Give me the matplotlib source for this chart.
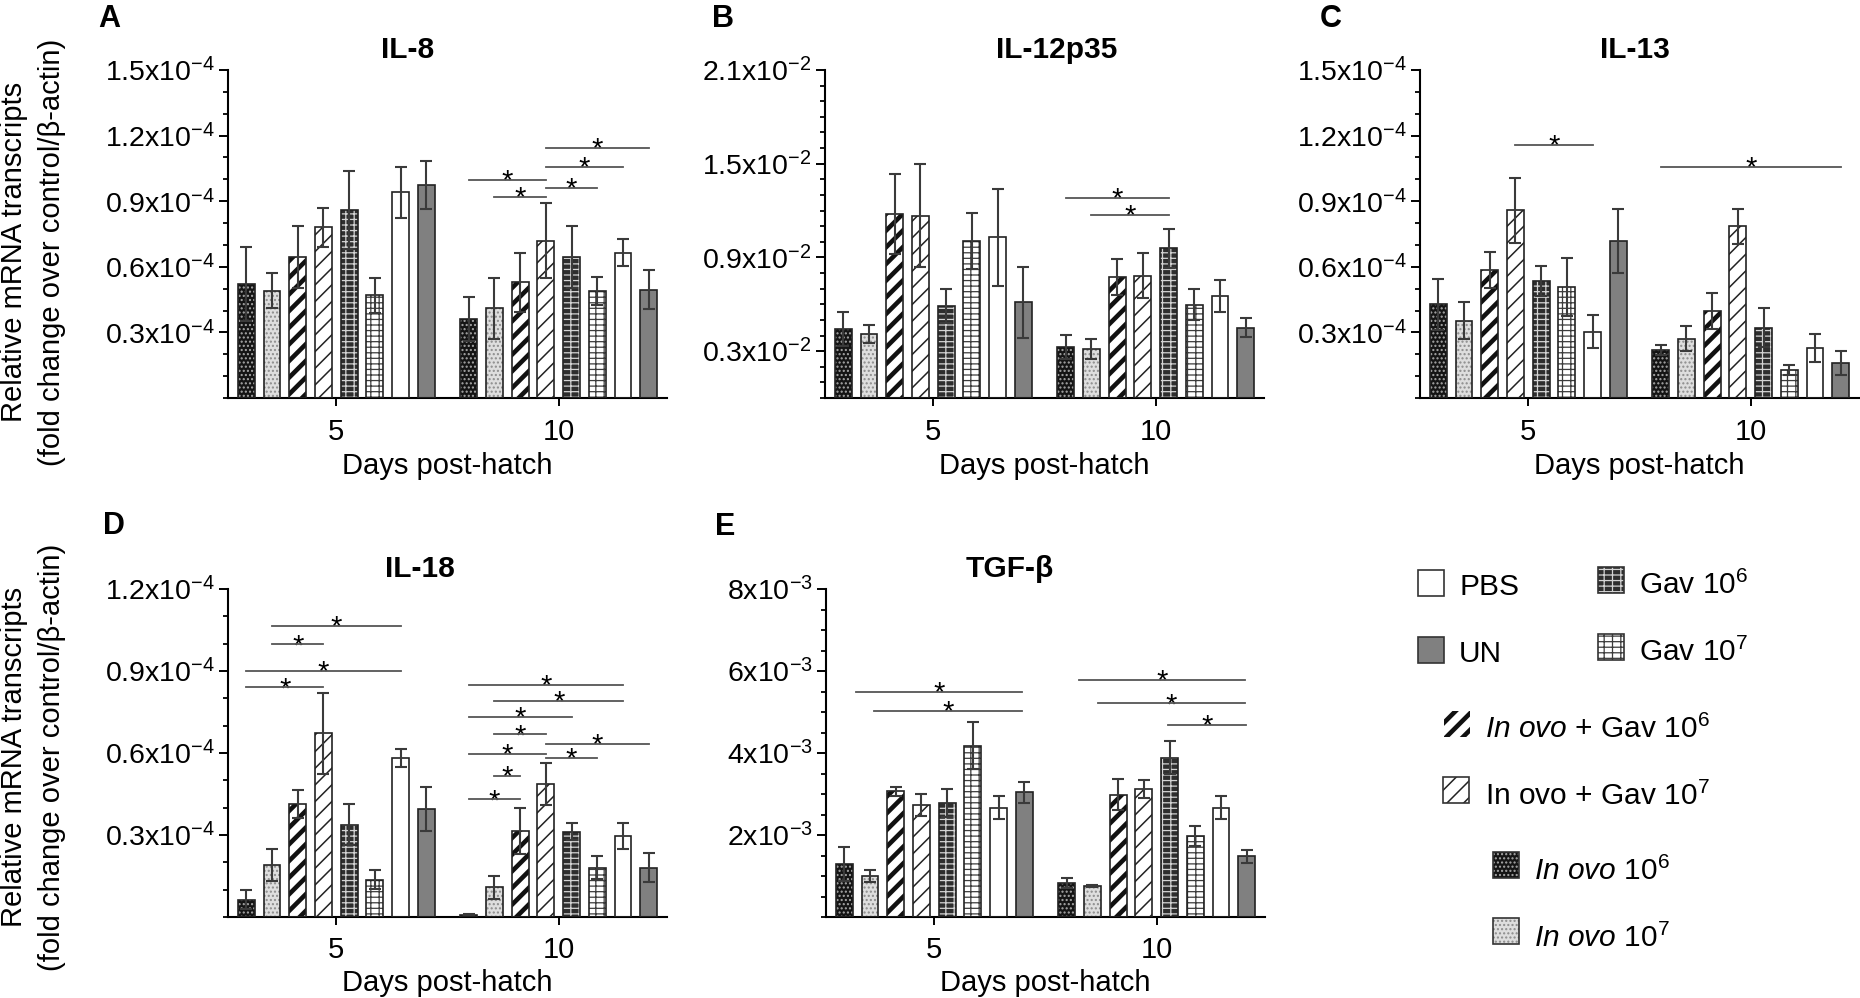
import numpy as np
import matplotlib.pyplot as plt
import matplotlib.patches as mpatches
from matplotlib.ticker import FixedLocator, MultipleLocator

plt.rcParams['font.family'] = ['Liberation Sans', 'DejaVu Sans']
plt.rcParams['mathtext.fontset'] = 'custom'
plt.rcParams['mathtext.rm'] = 'Liberation Sans'
plt.rcParams['mathtext.it'] = 'Liberation Sans:italic'
plt.rcParams['mathtext.bf'] = 'Liberation Sans:bold'
plt.rcParams['hatch.linewidth'] = 1.0

W, H = 1860, 998

# bar order inside each day cluster
groups = ['In ovo 10^6', 'In ovo 10^7', 'In ovo + Gav 10^6', 'In ovo + Gav 10^7',
          'Gav 10^6', 'Gav 10^7', 'PBS', 'UN']
days = ['5', '10']

# IL-8 (x10^-4)
il8_d5 = [0.52, 0.49, 0.645, 0.78, 0.86, 0.47, 0.94, 0.975]
il8_d5_err = [0.17, 0.08, 0.14, 0.09, 0.18, 0.08, 0.115, 0.11]
il8_d10 = [0.36, 0.41, 0.53, 0.72, 0.645, 0.49, 0.665, 0.495]
il8_d10_err = [0.10, 0.14, 0.135, 0.17, 0.14, 0.063, 0.06, 0.09]
# (day, from bar, to bar, height)
il8_sig = [(1, 0, 3, 0.998), (1, 1, 3, 0.92), (1, 3, 7, 1.142), (1, 3, 6, 1.055), (1, 3, 5, 0.96)]

# IL-12p35 (x10^-2)
il12_d5 = [0.44, 0.41, 1.18, 1.167, 0.59, 1.005, 1.03, 0.612]
il12_d5_err = [0.11, 0.06, 0.255, 0.33, 0.107, 0.177, 0.31, 0.228]
il12_d10 = [0.325, 0.314, 0.773, 0.784, 0.958, 0.597, 0.653, 0.449]
il12_d10_err = [0.077, 0.064, 0.116, 0.142, 0.127, 0.10, 0.104, 0.06]
il12_sig = [(1, 0, 4, 1.279), (1, 1, 4, 1.171)]

# IL-13 (x10^-4)
il13_d5 = [0.428, 0.354, 0.585, 0.858, 0.535, 0.506, 0.304, 0.718]
il13_d5_err = [0.116, 0.086, 0.081, 0.149, 0.07, 0.133, 0.075, 0.148]
il13_d10 = [0.22, 0.272, 0.397, 0.785, 0.322, 0.127, 0.229, 0.16]
il13_d10_err = [0.023, 0.055, 0.081, 0.08, 0.089, 0.024, 0.063, 0.054]
il13_sig = [(0, 3, 6, 1.156), (1, 0, 7, 1.057)]

# IL-18 (x10^-4)
il18_d5 = [0.064, 0.19, 0.413, 0.672, 0.338, 0.137, 0.58, 0.396]
il18_d5_err = [0.034, 0.057, 0.051, 0.149, 0.074, 0.034, 0.033, 0.081]
il18_d10 = [0.009, 0.108, 0.315, 0.486, 0.312, 0.18, 0.296, 0.181]
il18_d10_err = [0.003, 0.041, 0.083, 0.076, 0.031, 0.042, 0.049, 0.054]
il18_sig = [(0, 1, 6, 1.066), (0, 1, 3, 0.997), (0, 0, 6, 0.90), (0, 0, 3, 0.84),
            (1, 0, 6, 0.848), (1, 1, 6, 0.789), (1, 0, 4, 0.733), (1, 1, 3, 0.668),
            (1, 3, 7, 0.632), (1, 0, 3, 0.596), (1, 3, 5, 0.583), (1, 1, 2, 0.516),
            (1, 0, 2, 0.43)]

# TGF-beta (x10^-3)
tgf_d5 = [1.30, 1.00, 3.07, 2.73, 2.78, 4.18, 2.67, 3.04]
tgf_d5_err = [0.41, 0.157, 0.11, 0.27, 0.34, 0.58, 0.29, 0.26]
tgf_d10 = [0.83, 0.75, 2.98, 3.12, 3.89, 1.97, 2.67, 1.48]
tgf_d10_err = [0.12, 0.025, 0.38, 0.22, 0.41, 0.25, 0.29, 0.16]
tgf_sig = [(0, 0.45, 6.9, 5.50), (0, 1.15, 6.9, 5.03),
           (1, 0.49, 6.92, 5.78), (1, 1.2, 6.92, 5.21), (1, 3.92, 6.98, 4.68)]

# bar looks: face, hatch, hatch colour, hatch width
styles = [
    dict(face='#141414', hatch='....', hc='#a8a8a8', hlw=1.0),
    dict(face='#dedede', hatch='....', hc='#8c8c8c', hlw=1.0),
    dict(face='white', hatch='//', hc='#111111', hlw=3.3),
    dict(face='white', hatch='//', hc='#222222', hlw=1.1),
    dict(face='#2e2e2e', hatch='---||', hc='#d4d4d4', hlw=0.9),
    dict(face='white', hatch='---||', hc='#3c3c3c', hlw=0.9),
    dict(face='white', hatch=None, hc='#222222', hlw=1.0),
    dict(face='#808080', hatch=None, hc='#222222', hlw=1.0),
]

panels = [
    dict(letter='A', title='IL-8', d5=il8_d5, e5=il8_d5_err, d10=il8_d10, e10=il8_d10_err,
         sig=il8_sig, ticks=[0.3, 0.6, 0.9, 1.2, 1.5], ymax=1.5, minor=0.1, expo='-4', fmt='{:.1f}'),
    dict(letter='B', title='IL-12p35', d5=il12_d5, e5=il12_d5_err, d10=il12_d10, e10=il12_d10_err,
         sig=il12_sig, ticks=[0.3, 0.9, 1.5, 2.1], ymax=2.1, minor=0.1, expo='-2', fmt='{:.1f}'),
    dict(letter='C', title='IL-13', d5=il13_d5, e5=il13_d5_err, d10=il13_d10, e10=il13_d10_err,
         sig=il13_sig, ticks=[0.3, 0.6, 0.9, 1.2, 1.5], ymax=1.5, minor=0.1, expo='-4', fmt='{:.1f}'),
    dict(letter='D', title='IL-18', d5=il18_d5, e5=il18_d5_err, d10=il18_d10, e10=il18_d10_err,
         sig=il18_sig, ticks=[0.3, 0.6, 0.9, 1.2], ymax=1.2, minor=0.1, expo='-4', fmt='{:.1f}'),
    dict(letter='E', title='TGF-β', d5=tgf_d5, e5=tgf_d5_err, d10=tgf_d10, e10=tgf_d10_err,
         sig=tgf_sig, ticks=[2, 4, 6, 8], ymax=8, minor=0.5, expo='-3', fmt='{:.0f}'),
]

# pixel layout: axes left, top, bottom; title x (axes frac); letter pos; tick/xlabel offsets
layout = {
    'A': dict(left=228, top=70, bottom=398, tx=0.41, letter=(98, 27), pad=8.5, xl=54),
    'B': dict(left=825, top=70, bottom=398, tx=0.528, letter=(712, 27), pad=8.5, xl=54),
    'C': dict(left=1420, top=70, bottom=398, tx=0.49, letter=(1320, 27), pad=8.5, xl=54),
    'D': dict(left=228, top=589, bottom=917, tx=0.437, letter=(103, 534), pad=7.5, xl=52),
    'E': dict(left=826, top=589, bottom=917, tx=0.418, letter=(715, 535), pad=7.5, xl=52),
}
AX_W = 439
GAP = 8.65
BAR_W = 0.655
x5 = np.arange(8)
x10 = x5 + GAP

fig = plt.figure(figsize=(W / 100, H / 100), dpi=100)

for p in panels:
    lay = layout[p['letter']]
    ax = fig.add_axes([lay['left'] / W, 1 - lay['bottom'] / H, AX_W / W,
                       (lay['bottom'] - lay['top']) / H])
    for i in range(8):
        st = styles[i]
        xs = [x5[i], x10[i]]
        hs = [p['d5'][i], p['d10'][i]]
        if st['hatch']:
            with plt.rc_context({'hatch.linewidth': st['hlw']}):
                bars = ax.bar(xs, hs, width=BAR_W, color=st['face'], edgecolor=st['hc'],
                              hatch=st['hatch'], linewidth=0, zorder=2)
            for b in bars:
                if hasattr(b, 'set_hatch_linewidth'):
                    b.set_hatch_linewidth(st['hlw'])
        else:
            ax.bar(xs, hs, width=BAR_W, color=st['face'], linewidth=0, zorder=2)
        ax.bar(xs, hs, width=BAR_W, fill=False, edgecolor='#222222', linewidth=1.2, zorder=3)
        ax.errorbar(xs, hs, yerr=[p['e5'][i], p['e10'][i]], fmt='none', ecolor='#3a3a3a',
                    elinewidth=1.5, capsize=4, capthick=1.5, zorder=4)

    for day, a, b, y in p['sig']:
        off = 0 if day == 0 else GAP
        ax.plot([a + off, b + off], [y, y], color='#555555', lw=1.3, clip_on=False, zorder=5)
        ax.annotate('*', xy=((a + b) / 2 + off, y), xytext=(0, -7), textcoords='offset points',
                    ha='center', va='baseline', fontsize=21, annotation_clip=False)

    ax.set_xlim(-0.71, 16.36)
    ax.set_ylim(0, p['ymax'])
    ax.yaxis.set_major_locator(FixedLocator(p['ticks']))
    ax.set_yticklabels([p['fmt'].format(t) + 'x10$^{' + p['expo'] + '}$' for t in p['ticks']])
    ax.yaxis.set_minor_locator(MultipleLocator(p['minor']))
    ax.set_xticks([3.5, 3.5 + GAP])
    ax.set_xticklabels(days)
    for s in ['top', 'right']:
        ax.spines[s].set_visible(False)
    for s in ['left', 'bottom']:
        ax.spines[s].set_linewidth(1.5)
    ax.tick_params(axis='y', which='major', length=6.5, width=1.4, labelsize=20.5, pad=3)
    ax.tick_params(axis='y', which='minor', length=3.3, width=1.3)
    ax.tick_params(axis='x', which='major', length=6, width=1.4, labelsize=21, pad=lay['pad'])
    ax.annotate('Days post-hatch', xy=(0.5, 0), xycoords='axes fraction',
                xytext=(0, -lay['xl']), textcoords='offset pixels',
                ha='center', va='top', fontsize=21)
    ax.text(lay['tx'], 1 + 12 / (lay['bottom'] - lay['top']), p['title'], transform=ax.transAxes,
            ha='center', va='baseline', fontsize=21.5, fontweight='bold')
    ax.set_facecolor('none')

# overlay in pixel units for letters, y labels and legend
ov = fig.add_axes([0, 0, 1, 1])
ov.set_xlim(0, W)
ov.set_ylim(H, 0)
ov.axis('off')

for p in panels:
    lx, ly = layout[p['letter']]['letter']
    ov.text(lx, ly, p['letter'], ha='left', va='baseline', fontsize=22, fontweight='bold')

for yc in (252, 757):
    ov.text(14, yc, 'Relative mRNA transcripts', rotation=90, ha='center', va='center', fontsize=21)
    ov.text(52, yc, '(fold change over control/β-actin)', rotation=90, ha='center', va='center',
            fontsize=21)

legend_labels = [
    r'$\mathit{In\ ovo}$ 10$^{6}$',
    r'$\mathit{In\ ovo}$ 10$^{7}$',
    r'$\mathit{In\ ovo}$ + Gav 10$^{6}$',
    r'In ovo + Gav 10$^{7}$',
    r'Gav 10$^{6}$',
    r'Gav 10$^{7}$',
    'PBS',
    'UN',
]
# box (x, y top), text (x, baseline)
legend_pos = [
    ((1493, 852), (1534, 880)),
    ((1493, 918), (1534, 947)),
    ((1444, 711), (1485, 738)),
    ((1443, 777), (1485, 805)),
    ((1598, 567), (1639, 594)),
    ((1598, 634), (1639, 661)),
    ((1418, 570), (1459, 595)),
    ((1418, 637), (1459, 662)),
]
for i, st in enumerate(styles):
    (bx, by), (tx, ty) = legend_pos[i]
    if st['hatch']:
        with plt.rc_context({'hatch.linewidth': st['hlw']}):
            r = mpatches.Rectangle((bx, by), 26, 26, facecolor=st['face'], edgecolor=st['hc'],
                                   hatch=st['hatch'], linewidth=0)
        if hasattr(r, 'set_hatch_linewidth'):
            r.set_hatch_linewidth(st['hlw'])
    else:
        r = mpatches.Rectangle((bx, by), 26, 26, facecolor=st['face'], linewidth=0)
    ov.add_patch(r)
    if i != 2:
        ov.add_patch(mpatches.Rectangle((bx, by), 26, 26, fill=False, edgecolor='#333333',
                                        linewidth=1.2))
    ov.text(tx, ty, legend_labels[i], ha='left', va='baseline', fontsize=21.5)

fig.savefig('out.png', dpi=100)
